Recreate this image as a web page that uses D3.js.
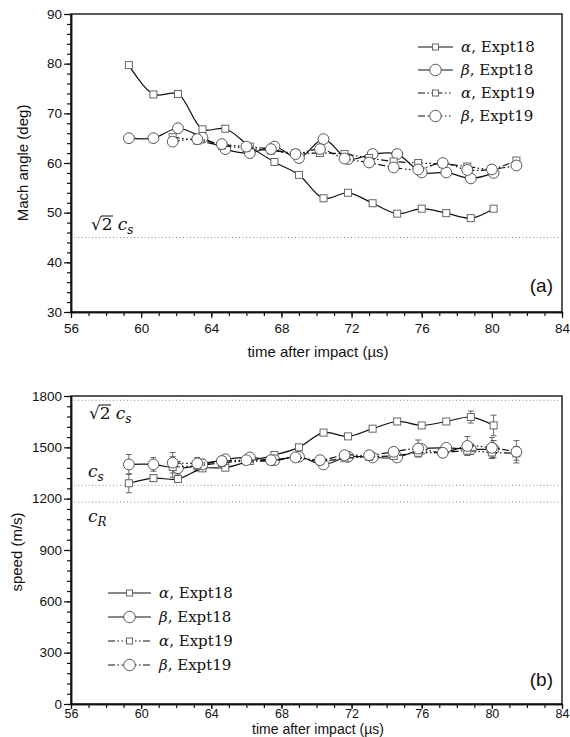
<!DOCTYPE html>
<html lang="en">
<head>
<meta charset="UTF-8">
<title>Mach angle and speed</title>
<script src="https://d3js.org/d3.v7.min.js"></script>
<style>
  body { margin: 0; background: #fff; }
  .tick text { font: 13.5px "Liberation Sans", Arial, sans-serif; fill: #111; }
  .xb .tick text { font-size: 12.5px; }
  .domain { stroke: #111; stroke-width: 1.5px; }
  .tick line { stroke: #111; stroke-width: 1.2px; }
  .title { font: 15px "Liberation Sans", Arial, sans-serif; fill: #111; }
  .lab { font: 15px "DejaVu Serif", "Liberation Serif", serif; fill: #111; }
  .panel { font: 19px "Liberation Sans", Arial, sans-serif; fill: #111; }
</style>
</head>
<body>
<div id="chart"></div>
<script>
// times of the two experiments (us)
const t18 = [59.3, 60.7, 62.1, 63.5, 64.8, 66.2, 67.6, 69.0, 70.4, 71.8, 73.2, 74.6, 76.0, 77.4, 78.8, 80.1];
const t19 = [61.8, 63.2, 64.6, 66.0, 67.4, 68.8, 70.2, 71.6, 73.0, 74.4, 75.8, 77.2, 78.6, 80.0, 81.4];

// (a) Mach angle, deg
const angA18 = [79.7, 73.8, 73.9, 66.8, 66.9, 63.3, 60.2, 57.6, 52.9, 54.0, 51.9, 49.8, 50.8, 49.9, 48.9, 50.8];
const angB18 = [65.0, 65.0, 67.0, 65.1, 62.8, 62.0, 63.3, 61.0, 64.8, 60.8, 61.8, 61.8, 58.1, 58.1, 56.9, 58.0];
const angA19 = [65.2, 64.5, 63.5, 63.0, 62.5, 62.0, 62.0, 61.8, 61.0, 60.3, 60.0, 59.8, 59.3, 58.8, 60.5];
const angB19 = [64.3, 64.8, 63.8, 63.3, 62.8, 61.8, 62.8, 60.9, 60.1, 59.1, 58.7, 60.0, 58.6, 58.7, 59.5];

// (b) speed, m/s, with error half-widths
const spdA18 = [1290, 1320, 1315, 1377, 1381, 1420, 1455, 1500, 1586, 1564, 1609, 1651, 1628, 1651, 1677, 1628];
const errA18 = [55, 20, 20, 15, 15, 10, 10, 10, 10, 10, 10, 10, 10, 10, 35, 60];
const spdB18 = [1400, 1400, 1378, 1400, 1430, 1441, 1425, 1445, 1400, 1445, 1441, 1441, 1490, 1497, 1489, 1490];
const errB18 = [58, 40, 40, 30, 20, 15, 15, 15, 15, 15, 15, 15, 20, 20, 30, 50];
const spdA19 = [1385, 1392, 1410, 1420, 1420, 1440, 1420, 1436, 1445, 1450, 1468, 1470, 1480, 1470, 1465];
const errA19 = [60, 30, 20, 15, 15, 15, 15, 15, 15, 15, 20, 20, 25, 35, 40];
const spdB19 = [1410, 1406, 1420, 1425, 1425, 1441, 1425, 1454, 1454, 1474, 1493, 1468, 1508, 1497, 1474];
const errB19 = [60, 35, 25, 20, 15, 15, 15, 15, 15, 20, 50, 25, 55, 60, 65];

const legendNames = [["α", "Expt18"], ["β", "Expt18"], ["α", "Expt19"], ["β", "Expt19"]];

const cs = 1278, cR = 1180, sqrt2cs = 1775, machRef = 45;

const W = 570, H = 737;
const svg = d3.select("#chart").append("svg")
  .attr("width", W).attr("height", H);

const x1 = d3.scaleLinear().domain([56, 84]).range([71, 562]);
const yA = d3.scaleLinear().domain([30, 90]).range([312, 14]);
const yB = d3.scaleLinear().domain([0, 1800]).range([704, 396]);

const dashDot = "7,2.5,1.5,2.5,1.5,2.5";
const series = [
  { t: t18, a: angA18, s: spdA18, e: errA18, mark: "square", dash: null },
  { t: t18, a: angB18, s: spdB18, e: errB18, mark: "circle", dash: null },
  { t: t19, a: angA19, s: spdA19, e: errA19, mark: "square", dash: dashDot },
  { t: t19, a: angB19, s: spdB19, e: errB19, mark: "circle", dash: dashDot }
];

function drawMarker(g, type, cx, cy, size) {
  if (type === "square") {
    g.append("rect").attr("x", cx - size / 2).attr("y", cy - size / 2)
      .attr("width", size).attr("height", size)
      .attr("fill", "#fff").attr("stroke", "#666").attr("stroke-width", 1);
  } else {
    g.append("circle").attr("cx", cx).attr("cy", cy).attr("r", size * 0.72)
      .attr("fill", "#fff").attr("stroke", "#555").attr("stroke-width", 1);
  }
}

function drawAxes(y, majors, minors, xTitle, yTitle, opt) {
  const g = svg.append("g");
  const [y0, y1] = y.range();
  const [xl, xr] = x1.range();
  // frame
  g.append("rect").attr("x", xl).attr("y", y1).attr("width", xr - xl).attr("height", y0 - y1)
    .attr("fill", "none").attr("stroke", "#222").attr("stroke-width", 1.5);

  g.append("g").attr("transform", `translate(0,${y0})`)
    .call(d3.axisBottom(x1).tickValues(d3.range(56, 85, 1)).tickSize(4).tickFormat("").tickSizeOuter(0));
  g.append("g").attr("class", opt.cls).attr("transform", `translate(0,${y0})`)
    .call(d3.axisBottom(x1).tickValues(d3.range(56, 85, 4)).tickSize(opt.tick).tickPadding(opt.pad).tickSizeOuter(0));
  g.append("g").attr("transform", `translate(${xl},0)`)
    .call(d3.axisLeft(y).tickValues(minors).tickSize(4).tickFormat("").tickSizeOuter(0));
  g.append("g").attr("transform", `translate(${xl},0)`)
    .call(d3.axisLeft(y).tickValues(majors).tickSize(7).tickPadding(2).tickFormat(d3.format("d")).tickSizeOuter(0));

  g.append("text").attr("class", "title").attr("x", 318).attr("y", y0 + opt.titleDy)
    .attr("text-anchor", "middle").style("font-size", opt.titleSize).text(xTitle);
  g.append("text").attr("class", "title")
    .attr("transform", `translate(${opt.yTitleX},${opt.yTitleY}) rotate(-90)`)
    .attr("text-anchor", "middle").text(yTitle);
}

function refLine(y, v) {
  svg.append("line").attr("x1", x1.range()[0]).attr("x2", x1.range()[1]).attr("y1", y(v)).attr("y2", y(v))
    .attr("stroke", "#888").attr("stroke-width", 1).attr("stroke-dasharray", "1,2.5");
}

// c with subscript, optionally preceded by sqrt(2)
function csLabel(px, py, sub, withRoot) {
  const t = svg.append("text").attr("class", "lab").attr("x", px).attr("y", py).style("font-size", "17px");
  if (withRoot) {
    t.append("tspan").text("√2");
    svg.append("line").attr("x1", px + 10).attr("x2", px + 22).attr("y1", py - 14).attr("y2", py - 14)
      .attr("stroke", "#111").attr("stroke-width", 1);
    t.append("tspan").attr("dx", 5).style("font-style", "italic").text("c");
  } else {
    t.append("tspan").style("font-style", "italic").text("c");
  }
  t.append("tspan").attr("dy", 4).style("font-style", "italic").style("font-size", "12px").text(sub);
}

function drawLegend(lx, ly, gap, len) {
  series.forEach((s, i) => {
    const yy = ly + i * gap;
    svg.append("line").attr("x1", lx).attr("x2", lx + len).attr("y1", yy).attr("y2", yy)
      .attr("stroke", "#111").attr("stroke-width", 1.1).attr("stroke-dasharray", s.dash);
    drawMarker(svg.append("g"), s.mark, lx + len / 2, yy, s.mark === "square" ? 6 : 8);
    const t = svg.append("text").attr("class", "lab").attr("x", lx + len + 8).attr("y", yy + 5);
    t.append("tspan").style("font-style", "italic").text(legendNames[i][0]);
    t.append("tspan").text(", " + legendNames[i][1]);
  });
}

const curve = d3.curveCatmullRom.alpha(0.5);

// ---- panel (a)
refLine(yA, machRef);
drawAxes(yA, d3.range(30, 91, 10), d3.range(30, 91, 2), "time after impact (µs)", "Mach angle (deg)",
  { cls: "xa", tick: 6, pad: 5, titleDy: 45, titleSize: "15px", yTitleX: 28, yTitleY: 163 });
csLabel(91, 230, "s", true);

series.forEach(s => {
  const pts = s.t.map((t, i) => [x1(t), yA(s.a[i])]);
  svg.append("path").attr("d", d3.line().curve(curve)(pts))
    .attr("fill", "none").attr("stroke", "#111").attr("stroke-width", 1.2)
    .attr("stroke-dasharray", s.dash);
  const g = svg.append("g");
  pts.forEach(p => drawMarker(g, s.mark, p[0], p[1], s.mark === "square" ? 7 : 7.5));
});
drawLegend(418, 47, 23, 35);
svg.append("text").attr("class", "panel").attr("x", 553).attr("y", 292).attr("text-anchor", "end").text("(a)");

// ---- panel (b)
refLine(yB, sqrt2cs);
refLine(yB, cs);
refLine(yB, cR);
drawAxes(yB, d3.range(0, 1801, 300), d3.range(0, 1801, 60), "time after impact (µs)", "speed (m/s)",
  { cls: "xb", tick: 5, pad: 0, titleDy: 29.5, titleSize: "14px", yTitleX: 22, yTitleY: 552 });
csLabel(89, 419, "s", true);
csLabel(88, 477, "s", false);
csLabel(88, 522, "R", false);

series.forEach(s => {
  const g = svg.append("g");
  s.t.forEach((t, i) => {
    const cx = x1(t), lo = yB(s.s[i] - s.e[i]), hi = yB(s.s[i] + s.e[i]);
    g.append("line").attr("x1", cx).attr("x2", cx).attr("y1", lo).attr("y2", hi)
      .attr("stroke", "#555").attr("stroke-width", 0.9);
    [lo, hi].forEach(v => g.append("line").attr("x1", cx - 3).attr("x2", cx + 3)
      .attr("y1", v).attr("y2", v).attr("stroke", "#555").attr("stroke-width", 0.9));
  });
});
series.forEach(s => {
  const pts = s.t.map((t, i) => [x1(t), yB(s.s[i])]);
  svg.append("path").attr("d", d3.line().curve(curve)(pts))
    .attr("fill", "none").attr("stroke", "#111").attr("stroke-width", 1.2)
    .attr("stroke-dasharray", s.dash);
  const g = svg.append("g");
  pts.forEach(p => drawMarker(g, s.mark, p[0], p[1], s.mark === "square" ? 7 : 7.5));
});
drawLegend(108, 593, 24, 43);
svg.append("text").attr("class", "panel").attr("x", 553).attr("y", 686).attr("text-anchor", "end").text("(b)");
</script>
</body>
</html>
